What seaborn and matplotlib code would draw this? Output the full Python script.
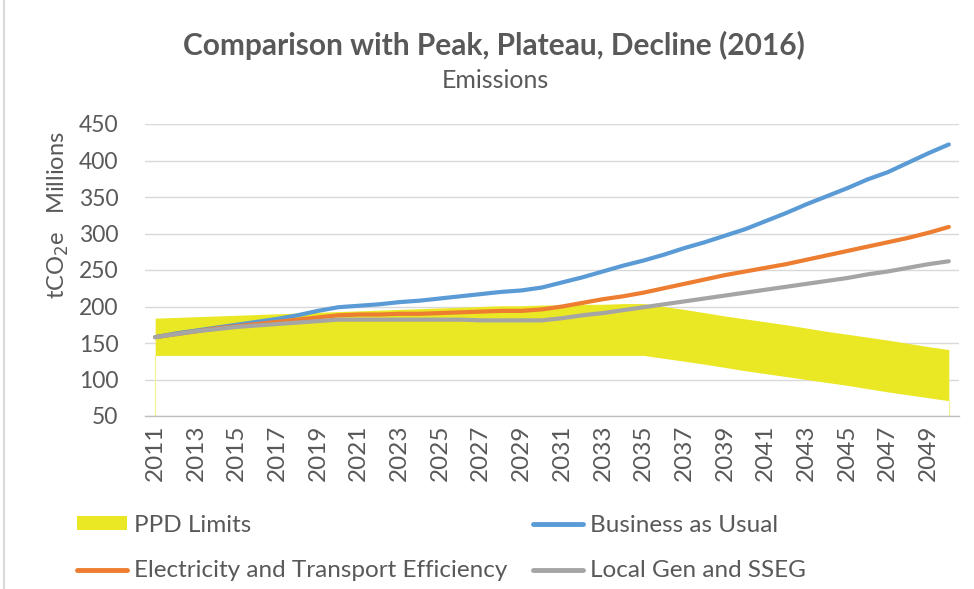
import numpy as np
import pandas as pd
import matplotlib
matplotlib.use("Agg")
import matplotlib.pyplot as plt
import seaborn as sns
from matplotlib.patches import Patch
from matplotlib.lines import Line2D

years = list(range(2011, 2051))

bau = [158, 163, 167, 171, 175, 179, 183, 188, 194, 199,
       201, 203, 206, 208, 211, 214, 217, 220, 222, 226,
       233, 240, 248, 256, 263, 271, 280, 288, 297, 306,
       317, 328, 340, 351, 362, 374, 384, 397, 410, 422]

ete = [158, 162, 166, 170, 173, 176, 179, 182, 185, 188,
       189, 189, 190, 190, 191, 192, 193, 194, 194, 196,
       200, 205, 210, 214, 219, 225, 231, 237, 243, 248,
       253, 258, 264, 270, 276, 282, 288, 294, 301, 309]

lgs = [158, 162, 166, 169, 172, 174, 176, 178, 180, 182,
       182, 182, 182, 182, 182, 182, 181, 181, 181, 181,
       184, 188, 191, 195, 199, 203, 207, 211, 215, 219,
       223, 227, 231, 235, 239, 244, 248, 253, 258, 262]

ppd_upper = [184, 185, 186, 187, 188, 189, 190, 191, 192, 193,
             194, 195, 196, 197, 198, 199, 200, 201, 201, 202,
             202, 203, 203, 204, 204, 200, 196, 191.5, 187, 183,
             179, 175, 170.5, 166, 162, 158, 154, 149.5, 145, 141]

ppd_lower = [133] * 25 + [129, 125, 121, 116.5, 112, 108, 104, 100, 96, 92,
                          87.5, 83, 79, 75, 71]

series_names = ["Business as Usual", "Electricity and Transport Efficiency", "Local Gen and SSEG"]
band_name = "PPD Limits"
y_ticks = [50, 100, 150, 200, 250, 300, 350, 400, 450]

colors = {"Business as Usual": "#5B9BD5",
          "Electricity and Transport Efficiency": "#ED7D31",
          "Local Gen and SSEG": "#A5A5A5"}
band_color = "#EAE824"
text_color = "#595959"

sns.set_theme(style="white")
plt.rcParams["font.family"] = ["Lato", "DejaVu Sans"]

idx = np.arange(len(years))
df = pd.DataFrame({
    "idx": np.concatenate([idx, idx, idx]),
    "value": bau + ete + lgs,
    "series": np.repeat(series_names, len(years)),
})

fig = plt.figure(figsize=(9.74, 5.89), dpi=100)
ax = fig.add_axes([145 / 974, 1 - 416 / 589, (959 - 145) / 974, (416 - 124) / 589])

ax.fill_between(idx, ppd_lower, ppd_upper, color=band_color, linewidth=0, zorder=2)
ax.vlines([idx[0], idx[-1]], y_ticks[0], [ppd_lower[0], ppd_lower[-1]],
          color="#F3F19A", linewidth=0.9, zorder=2)

sns.lineplot(data=df, x="idx", y="value", hue="series", palette=colors,
             linewidth=3.0, legend=False, ax=ax, zorder=3,
             solid_capstyle="round", solid_joinstyle="round")

ax.set_xlim(-0.5, len(years) - 0.5)
ax.set_ylim(y_ticks[0], y_ticks[-1])
ax.set_yticks(y_ticks)
ax.set_yticklabels([str(v) for v in y_ticks])
ax.grid(axis="y", color="#D9D9D9", linewidth=1.0, zorder=0)
ax.set_axisbelow(True)

ax.set_xticks(idx[::2])
ax.set_xticklabels([str(y) for y in years[::2]], rotation=90)
ax.set_xticks(np.arange(-0.5, len(years)), minor=True)
ax.tick_params(axis="x", which="major", length=0, pad=6, labelsize=17.5, colors=text_color)
ax.tick_params(axis="x", which="minor", length=6, width=1, color="#BFBFBF", direction="out")
ax.tick_params(axis="y", length=0, pad=19, labelsize=16.5, colors=text_color)
ax.set_xlabel("")
ax.set_ylabel("")

for s in ["top", "right", "left"]:
    ax.spines[s].set_visible(False)
ax.spines["bottom"].set_color("#BFBFBF")
ax.spines["bottom"].set_linewidth(1)

fig.text(494 / 974, 1 - 45 / 589, "Comparison with Peak, Plateau, Decline (2016)",
         ha="center", va="center", fontsize=21.5, fontweight="bold", color=text_color)
fig.text(495 / 974, 1 - 81 / 589, "Emissions", ha="center", va="center",
         fontsize=18, color=text_color)
fig.text(58 / 974, 1 - 215 / 589, "tCO$_2$e   Millions", rotation=90,
         ha="center", va="center", fontsize=17, color=text_color)

handles = [Patch(facecolor=band_color, edgecolor="none"),
           Line2D([0], [0], color=colors[series_names[1]], lw=3.5, solid_capstyle="round"),
           Line2D([0], [0], color=colors[series_names[0]], lw=3.5, solid_capstyle="round"),
           Line2D([0], [0], color=colors[series_names[2]], lw=3.5, solid_capstyle="round")]
labels = [band_name, series_names[1], series_names[0], series_names[2]]
leg = fig.legend(handles, labels, ncol=2, loc="upper left",
                 bbox_to_anchor=(77 / 974, 1 - 515 / 589), frameon=False,
                 fontsize=17.5, handlelength=2.05, handleheight=0.5, handletextpad=0.3,
                 columnspacing=1.05, labelspacing=1.0, borderpad=0, borderaxespad=0)
for t in leg.get_texts():
    t.set_color(text_color)

fig.add_artist(Line2D([4 / 974, 4 / 974], [0, 1], color="#D9D9D9", lw=1.5,
                      transform=fig.transFigure))

fig.savefig("out.png", dpi=100, facecolor="white")
